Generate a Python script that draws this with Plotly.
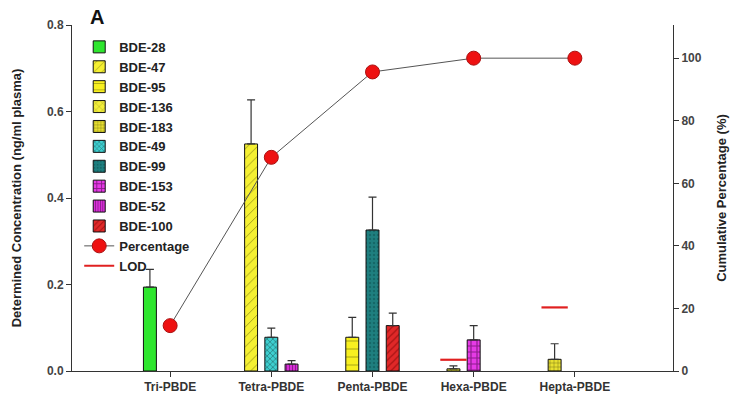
import plotly.graph_objects as go

categories = ["Tri-PBDE", "Tetra-PBDE", "Penta-PBDE", "Hexa-PBDE", "Hepta-PBDE"]

# congener series: name, homolog group, mean, upper error
congeners = ["BDE-28", "BDE-47", "BDE-95", "BDE-136", "BDE-183",
             "BDE-49", "BDE-99", "BDE-153", "BDE-52", "BDE-100"]
congener_group = ["Tri-PBDE", "Tetra-PBDE", "Penta-PBDE", "Hexa-PBDE", "Hepta-PBDE",
                  "Tetra-PBDE", "Penta-PBDE", "Hexa-PBDE", "Tetra-PBDE", "Penta-PBDE"]
concentration = [0.194, 0.525, 0.078, 0.005, 0.027,
                 0.078, 0.326, 0.072, 0.016, 0.105]
concentration_err = [0.041, 0.102, 0.046, 0.007, 0.036,
                     0.021, 0.076, 0.033, 0.008, 0.029]

cumulative_pct = [14.5, 68.3, 95.6, 100.0, 100.0]

lod_groups = ["Hexa-PBDE", "Hepta-PBDE"]
lod_values = [0.026, 0.147]

# styling (slot within group, colours, patterns)
slot = {"BDE-28": -1, "BDE-47": -1, "BDE-95": -1, "BDE-136": -1, "BDE-183": -1,
        "BDE-49": 0, "BDE-99": 0, "BDE-153": 0, "BDE-52": 1, "BDE-100": 1}
style = {
    "BDE-28": dict(color="#2EE62E", shape="", fg="#000000", size=8, sol=0.3),
    "BDE-47": dict(color="#F5F032", shape="/", fg="#333300", size=7, sol=0.12),
    "BDE-95": dict(color="#F8F020", shape="-", fg="#333300", size=8, sol=0.1),
    "BDE-136": dict(color="#F2EE3A", shape="x", fg="#333300", size=6, sol=0.15),
    "BDE-183": dict(color="#E8E030", shape="+", fg="#222200", size=4, sol=0.25),
    "BDE-49": dict(color="#3ECFD0", shape="x", fg="#103030", size=4, sol=0.35),
    "BDE-99": dict(color="#1F7F7F", shape=".", fg="#0C4F4F", size=4, sol=0.3),
    "BDE-153": dict(color="#E63AE6", shape="+", fg="#300030", size=6, sol=0.35),
    "BDE-52": dict(color="#D82FD8", shape="|", fg="#300030", size=3, sol=0.3),
    "BDE-100": dict(color="#E02828", shape="/", fg="#700000", size=5, sol=0.25),
}
slot_step = 0.2
bar_width = 0.128

font_family = "Arial, Liberation Sans, sans-serif"

fig = go.Figure()

for name, grp, v, e in zip(congeners, congener_group, concentration, concentration_err):
    s = style[name]
    xpos = categories.index(grp) + slot[name] * slot_step
    fig.add_trace(go.Bar(
        x=[xpos], y=[v], name=name, width=bar_width,
        marker=dict(color=s["color"], line=dict(color="#111111", width=1),
                    pattern=dict(shape=s["shape"], fgcolor=s["fg"], size=s["size"],
                                 solidity=s["sol"], fillmode="overlay")),
        error_y=dict(type="data", symmetric=False, array=[e], arrayminus=[0],
                     color="#333333", thickness=1.2, width=4),
        yaxis="y",
    ))

fig.add_trace(go.Scatter(
    x=list(range(len(categories))), y=cumulative_pct, name="Percentage",
    mode="lines+markers", yaxis="y2",
    line=dict(color="#555555", width=1),
    marker=dict(color="#EE1111", size=14, line=dict(color="#AA1111", width=1)),
))

lod_x, lod_y = [], []
for g, v in zip(lod_groups, lod_values):
    c = categories.index(g) - slot_step
    lod_x += [c - 0.13, c + 0.13, None]
    lod_y += [v, v, None]
fig.add_trace(go.Scatter(
    x=lod_x, y=lod_y, name="LOD", mode="lines", yaxis="y",
    line=dict(color="#E02020", width=2.2),
))

fig.update_layout(
    width=739, height=398,
    margin=dict(l=72, r=66, t=25, b=27, autoexpand=False),
    paper_bgcolor="white", plot_bgcolor="white",
    font=dict(family=font_family, size=12, color="#222222"),
    barmode="overlay",
    showlegend=True,
    legend=dict(x=0.012, y=0.98, xanchor="left", yanchor="top",
                bgcolor="rgba(255,255,255,0)",
                font=dict(size=13, family=font_family, color="#222222", weight="bold"),
                traceorder="normal", itemwidth=30, tracegroupgap=0),
    xaxis=dict(range=[-0.97, 4.97], tickmode="array", automargin=False,
               tickvals=list(range(len(categories))), ticktext=categories,
               showline=True, linecolor="#333333", linewidth=1,
               ticks="outside", ticklen=5, tickcolor="#333333",
               showgrid=False, zeroline=False,
               tickfont=dict(size=12, color="#333333", family=font_family, weight="bold")),
    yaxis=dict(range=[0, 0.8], tickvals=[0, 0.2, 0.4, 0.6, 0.8], automargin=False,
               tickformat=".1f",
               showline=True, linecolor="#333333", linewidth=1,
               ticks="outside", ticklen=5, tickcolor="#333333",
               showgrid=False, zeroline=False,
               tickfont=dict(size=12, color="#444444", family=font_family, weight="bold"),
               title=dict(text="Determined Concentration (ng/ml plasma)",
                          font=dict(size=13, color="#222222", family=font_family, weight="bold"),
                          standoff=22)),
    yaxis2=dict(range=[0, 110.6], tickvals=[0, 20, 40, 60, 80, 100], automargin=False,
                overlaying="y", side="right",
                showline=True, linecolor="#333333", linewidth=1,
                ticks="outside", ticklen=5, tickcolor="#333333",
                showgrid=False, zeroline=False,
                tickfont=dict(size=12, color="#444444", family=font_family, weight="bold"),
                title=dict(text="Cumulative Percentage (%)",
                           font=dict(size=13, color="#222222", family=font_family, weight="bold"),
                           standoff=16)),
    annotations=[dict(text="<b>A</b>", x=0.026, y=0.985, xref="paper", yref="paper",
                      xanchor="left", yanchor="bottom", showarrow=False,
                      font=dict(size=20, color="#111111", family=font_family))],
)

fig.write_html("out.html", config={"displayModeBar": False},
               post_script="document.body.style.margin='0';")
